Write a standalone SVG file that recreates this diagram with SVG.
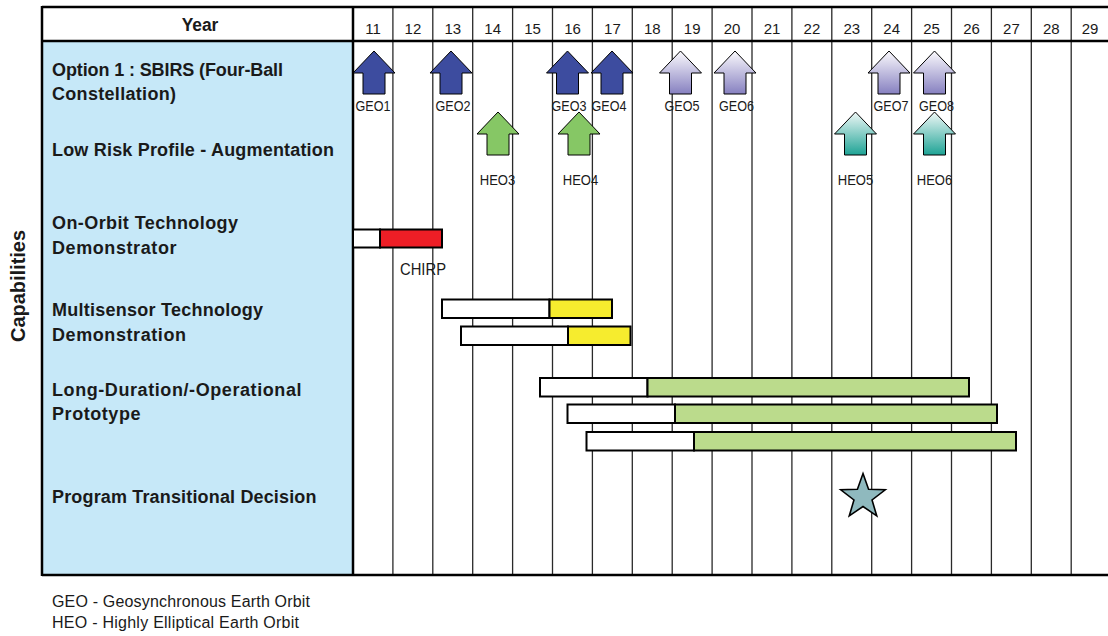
<svg xmlns="http://www.w3.org/2000/svg" width="1108" height="636" viewBox="0 0 1108 636">
<style>
.lbl{font-family:"Liberation Sans",Arial,sans-serif;font-weight:bold;font-size:18px;fill:#1a1a1a}
.num{font-family:"Liberation Sans",Arial,sans-serif;font-size:15px;fill:#1a1a1a;text-anchor:middle}
.sm{font-family:"Liberation Sans",Arial,sans-serif;font-size:14px;fill:#1a1a1a;text-anchor:middle}
.leg{font-family:"Liberation Sans",Arial,sans-serif;font-size:16px;fill:#1a1a1a}
.grid{stroke:#2a2a2a;stroke-width:1.3;fill:none}
.frame{stroke:#000;stroke-width:2.5;fill:none}
.arr{stroke:#000;stroke-width:1}
.bar{stroke:#000;stroke-width:2}
</style>
<defs>
<path id="arrow" d="M0,0 L21,22 L11,22 L11,43 L-11,43 L-11,22 L-21,22 Z"/>
<linearGradient id="gPurple" x1="0" y1="0" x2="0" y2="1">
<stop offset="0" stop-color="#FBFAFD"/>
<stop offset="1" stop-color="#8680C0"/>
</linearGradient>
<linearGradient id="gTeal" x1="0" y1="0" x2="0" y2="1">
<stop offset="0" stop-color="#F0F8F7"/>
<stop offset="1" stop-color="#1EA395"/>
</linearGradient>
</defs>
<rect width="1108" height="636" fill="#fff"/>
<g id="label-panel">
<rect x="42" y="41" width="311" height="534" fill="#C6E8F8"/>
</g>
<g id="grid">
<g class="grid">
<path d="M392.9,7V575M432.8,7V575M472.7,7V575M512.6,7V575M552.5,7V575M592.4,7V575M632.3,7V575M672.2,7V575M712.1,7V575M752,7V575M791.9,7V575M831.8,7V575M871.7,7V575M911.6,7V575M951.5,7V575M991.4,7V575M1031.3,7V575M1071.2,7V575"/>
</g>
<g class="frame">
<path d="M42,7H1108M42,41H1108M42,575H1108M42,6V576M353,7V575"/>
</g>
</g>
<g id="header">
<text x="200" y="30.5" class="lbl" text-anchor="middle" textLength="36.7" lengthAdjust="spacingAndGlyphs">Year</text>
<g class="num">
<text x="373" y="34">11</text><text x="412.9" y="34">12</text><text x="452.8" y="34">13</text><text x="492.7" y="34">14</text><text x="532.6" y="34">15</text><text x="572.5" y="34">16</text><text x="612.4" y="34">17</text><text x="652.3" y="34">18</text><text x="692.2" y="34">19</text><text x="732.1" y="34">20</text><text x="772" y="34">21</text><text x="811.9" y="34">22</text><text x="851.8" y="34">23</text><text x="891.7" y="34">24</text><text x="931.6" y="34">25</text><text x="971.5" y="34">26</text><text x="1011.4" y="34">27</text><text x="1051.3" y="34">28</text><text x="1090" y="34">29</text>
</g>
</g>
<g id="capabilities-title">
<text class="lbl" style="font-size:19.5px" transform="translate(25,286) rotate(-90)" text-anchor="middle" textLength="112" lengthAdjust="spacingAndGlyphs">Capabilities</text>
</g>
<g id="row-labels">
<text class="lbl" x="52" y="76" textLength="231">Option 1 : SBIRS (Four-Ball</text>
<text class="lbl" x="52" y="100" textLength="124">Constellation)</text>
<text class="lbl" x="52" y="156" textLength="282">Low Risk Profile - Augmentation</text>
<text class="lbl" x="52" y="229" textLength="186">On-Orbit Technology</text>
<text class="lbl" x="52" y="254" textLength="124.5">Demonstrator</text>
<text class="lbl" x="52" y="316" textLength="211">Multisensor Technology</text>
<text class="lbl" x="52" y="341" textLength="134">Demonstration</text>
<text class="lbl" x="52" y="396" textLength="249.5">Long-Duration/-Operational</text>
<text class="lbl" x="52" y="420" textLength="88.5">Prototype</text>
<text class="lbl" x="52" y="503" textLength="264.5">Program Transitional Decision</text>
</g>
<g id="geo1"><use href="#arrow" class="arr" fill="#3D4C9F" transform="translate(374,51)"/><text class="sm" x="373" y="111" textLength="35" lengthAdjust="spacingAndGlyphs">GEO1</text></g>
<g id="geo2"><use href="#arrow" class="arr" fill="#3D4C9F" transform="translate(451,51)"/><text class="sm" x="453" y="111" textLength="35" lengthAdjust="spacingAndGlyphs">GEO2</text></g>
<g id="geo3"><use href="#arrow" class="arr" fill="#3D4C9F" transform="translate(567.5,51)"/><text class="sm" x="569" y="111" textLength="35" lengthAdjust="spacingAndGlyphs">GEO3</text></g>
<g id="geo4"><use href="#arrow" class="arr" fill="#3D4C9F" transform="translate(612,51)"/><text class="sm" x="609" y="111" textLength="35" lengthAdjust="spacingAndGlyphs">GEO4</text></g>
<g id="geo5"><use href="#arrow" class="arr" fill="url(#gPurple)" transform="translate(680.5,51)"/><text class="sm" x="682" y="111" textLength="35" lengthAdjust="spacingAndGlyphs">GEO5</text></g>
<g id="geo6"><use href="#arrow" class="arr" fill="url(#gPurple)" transform="translate(735,51)"/><text class="sm" x="736.5" y="111" textLength="35" lengthAdjust="spacingAndGlyphs">GEO6</text></g>
<g id="geo7"><use href="#arrow" class="arr" fill="url(#gPurple)" transform="translate(889,51)"/><text class="sm" x="891" y="111" textLength="35" lengthAdjust="spacingAndGlyphs">GEO7</text></g>
<g id="geo8"><use href="#arrow" class="arr" fill="url(#gPurple)" transform="translate(934.5,51)"/><text class="sm" x="936.5" y="111" textLength="35" lengthAdjust="spacingAndGlyphs">GEO8</text></g>
<g id="heo3"><use href="#arrow" class="arr" fill="#86C765" transform="translate(498,112)"/><text class="sm" x="497.5" y="185" textLength="35.5" lengthAdjust="spacingAndGlyphs">HEO3</text></g>
<g id="heo4"><use href="#arrow" class="arr" fill="#86C765" transform="translate(579,112)"/><text class="sm" x="580.5" y="185" textLength="35.5" lengthAdjust="spacingAndGlyphs">HEO4</text></g>
<g id="heo5"><use href="#arrow" class="arr" fill="url(#gTeal)" transform="translate(855.5,112)"/><text class="sm" x="855.5" y="185" textLength="35.5" lengthAdjust="spacingAndGlyphs">HEO5</text></g>
<g id="heo6"><use href="#arrow" class="arr" fill="url(#gTeal)" transform="translate(934.5,112)"/><text class="sm" x="934.5" y="185" textLength="35.5" lengthAdjust="spacingAndGlyphs">HEO6</text></g>
<g id="chirp">
<rect class="bar" x="353" y="229.5" width="27" height="18" fill="#fff"/>
<rect class="bar" x="380" y="229.5" width="62" height="18" fill="#EE1E26"/>
<text class="leg" x="400" y="275" textLength="46" lengthAdjust="spacingAndGlyphs">CHIRP</text>
</g>
<g id="multisensor-1">
<rect class="bar" x="442" y="299.5" width="107.5" height="18.5" fill="#fff"/>
<rect class="bar" x="549.5" y="299.5" width="62.5" height="18.5" fill="#F6EC2E"/>
</g>
<g id="multisensor-2">
<rect class="bar" x="461" y="326.5" width="107" height="18.5" fill="#fff"/>
<rect class="bar" x="568" y="326.5" width="62.5" height="18.5" fill="#F6EC2E"/>
</g>
<g id="prototype-1">
<rect class="bar" x="540" y="378" width="107.5" height="18.5" fill="#fff"/>
<rect class="bar" x="647.5" y="378" width="321.5" height="18.5" fill="#BBDB8C"/>
</g>
<g id="prototype-2">
<rect class="bar" x="567.5" y="404.5" width="107.5" height="18.5" fill="#fff"/>
<rect class="bar" x="675" y="404.5" width="322" height="18.5" fill="#BBDB8C"/>
</g>
<g id="prototype-3">
<rect class="bar" x="586.5" y="432" width="107.5" height="18.5" fill="#fff"/>
<rect class="bar" x="694" y="432" width="322" height="18.5" fill="#BBDB8C"/>
</g>
<g id="decision-star">
<polygon points="863,473.6 868.58,489.31 885.25,489.77 872.04,499.94 876.75,515.93 863,506.5 849.25,515.93 853.96,499.94 840.75,489.77 857.42,489.31" fill="#8FB9BE" stroke="#000" stroke-width="1.6" stroke-linejoin="miter"/>
</g>
<g id="legend">
<text class="leg" x="52" y="607" textLength="258">GEO - Geosynchronous Earth Orbit</text>
<text class="leg" x="52" y="628" textLength="247">HEO - Highly Elliptical Earth Orbit</text>
</g>
</svg>
